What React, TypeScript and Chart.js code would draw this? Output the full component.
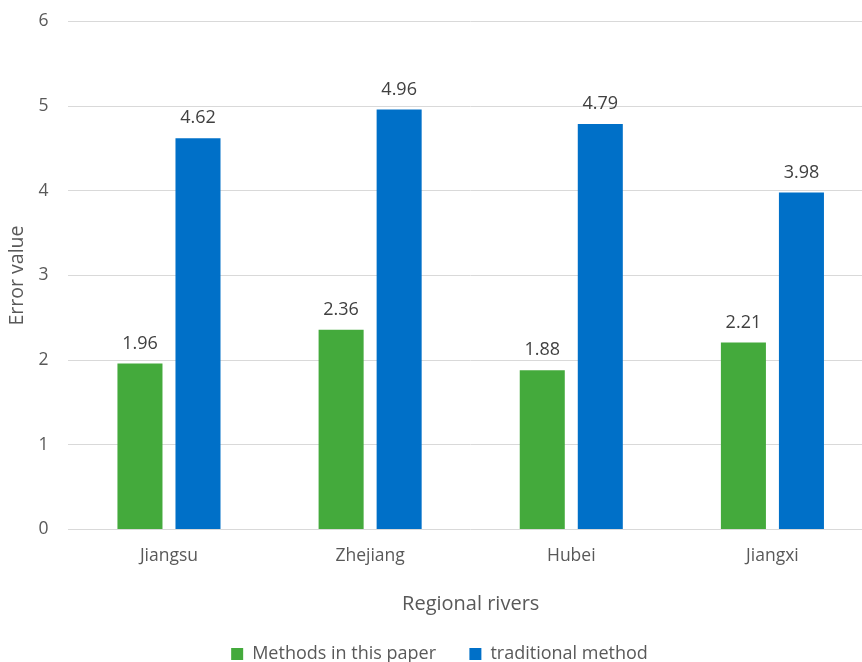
import React, { useEffect, useRef } from "react";
import { Chart, registerables } from "chart.js";

Chart.register(...registerables);

const categories = ["Jiangsu", "Zhejiang", "Hubei", "Jiangxi"];
const methodsValues = [1.96, 2.36, 1.88, 2.21];
const traditionalValues = [4.62, 4.96, 4.79, 3.98];
const seriesNames = ["Methods in this paper", "traditional method"];
const yTicks = [0, 1, 2, 3, 4, 5, 6];

const FONT = "'Open Sans', 'Noto Sans', sans-serif";

const dataLabels = {
  id: "dataLabels",
  afterDatasetsDraw(chart: any) {
    const ctx = chart.ctx;
    ctx.save();
    ctx.font = `18px ${FONT}`;
    ctx.fillStyle = "#404040";
    ctx.textAlign = "center";
    ctx.textBaseline = "middle";
    chart.data.datasets.forEach((ds: any, i: number) => {
      const meta = chart.getDatasetMeta(i);
      meta.data.forEach((bar: any, j: number) => {
        ctx.fillText(ds.data[j].toFixed(2), bar.x, bar.y - 20);
      });
    });
    ctx.restore();
  },
};

export default function App() {
  const ref = useRef<HTMLCanvasElement>(null);
  useEffect(() => {
    if (!ref.current) return;
    const chart = new Chart(ref.current, {
      type: "bar",
      data: {
        labels: categories,
        datasets: [
          {
            label: seriesNames[0],
            data: methodsValues,
            backgroundColor: "#44AA3C",
            barPercentage: 0.776,
            categoryPercentage: 0.577,
          },
          {
            label: seriesNames[1],
            data: traditionalValues,
            backgroundColor: "#0070C8",
            barPercentage: 0.776,
            categoryPercentage: 0.577,
          },
        ],
      },
      options: {
        animation: false,
        responsive: false,
        layout: { padding: { top: 1, left: 6, right: 0, bottom: 0 } },
        plugins: {
          legend: {
            position: "bottom",
            labels: {
              boxWidth: 12,
              boxHeight: 12,
              padding: 10,
              color: "#595959",
              font: { family: FONT, size: 18 },
              generateLabels: (c: any) => {
                const items = Chart.defaults.plugins.legend.labels.generateLabels(c);
                return items.map((it: any, i: number) =>
                  i < items.length - 1 ? { ...it, text: it.text + "     " } : it
                );
              },
            },
          },
          tooltip: { enabled: false },
        },
        scales: {
          x: {
            grid: { display: false, drawTicks: false },
            border: { display: false },
            ticks: { color: "#595959", padding: 16.5, font: { family: FONT, size: 17.5 } },
            title: {
              display: true,
              text: "Regional rivers",
              color: "#595959",
              font: { family: FONT, size: 20 },
              padding: { top: 9, bottom: 18.5 },
            },
          },
          y: {
            min: 0,
            max: 6,
            afterBuildTicks: (axis: any) => {
              axis.ticks = yTicks.map((v) => ({ value: v }));
            },
            grid: { color: "#D9D9D9", lineWidth: 1, drawTicks: false },
            border: { display: false },
            ticks: { color: "#595959", padding: 20, font: { family: FONT, size: 17.5 } },
            title: {
              display: true,
              text: "Error value",
              color: "#595959",
              font: { family: FONT, size: 19.5 },
              padding: { top: 0, bottom: -11 },
            },
          },
        },
      },
      plugins: [dataLabels],
    });
    return () => chart.destroy();
  }, []);
  return (
    <div style={{ position: "fixed", left: 0, top: -9, width: 873, height: 682, background: "#fff" }}>
      <canvas ref={ref} width={873} height={682} style={{ display: "block" }} />
    </div>
  );
}
